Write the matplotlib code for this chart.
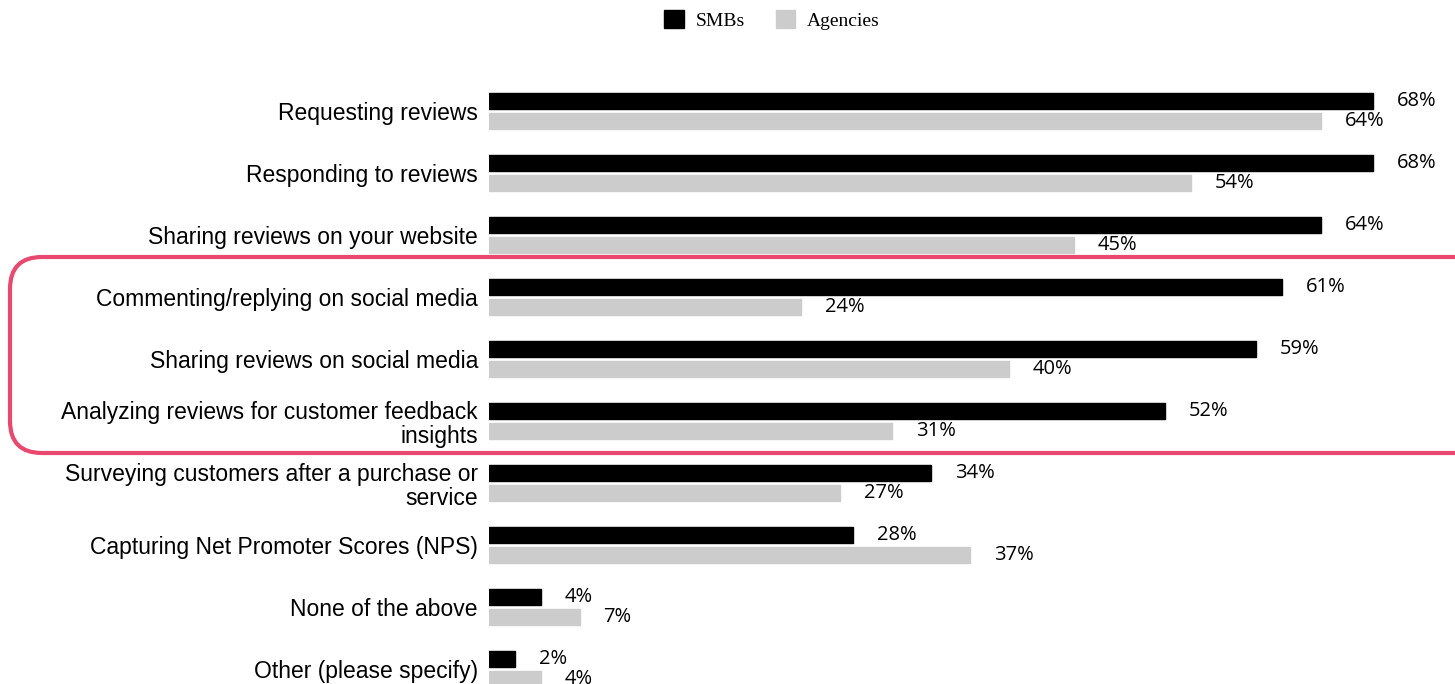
import matplotlib.pyplot as plt
from matplotlib.patches import FancyBboxPatch, Patch
import numpy as np

categories = [
    "Requesting reviews",
    "Responding to reviews",
    "Sharing reviews on your website",
    "Commenting/replying on social media",
    "Sharing reviews on social media",
    "Analyzing reviews for customer feedback\ninsights",
    "Surveying customers after a purchase or\nservice",
    "Capturing Net Promoter Scores (NPS)",
    "None of the above",
    "Other (please specify)",
]
smbs = [68, 68, 64, 61, 59, 52, 34, 28, 4, 2]
agencies = [64, 54, 45, 24, 40, 31, 27, 37, 7, 4]

black = "#000000"
gray = "#cccccc"
pink = "#e9496e"

W, H = 1455, 684
fig = plt.figure(figsize=(W / 100, H / 100), dpi=100)

# axes fills the full height; rows sit at y = 111 + 62*i px
left_px = 489
scale = 13.0  # px per percent
xmax = 74
ax = fig.add_axes([left_px / W, 0, xmax * scale / W, 1])
ax.set_xlim(0, xmax)
ax.set_ylim((H - 111) / 62, -111 / 62)

y = np.arange(len(categories))
h = 0.258
off = 0.161
ax.barh(y - off, smbs, height=h, color=black, edgecolor=black,
        linewidth=1, joinstyle="round")
ax.barh(y + off, agencies, height=h, color=gray, edgecolor=gray,
        linewidth=1, joinstyle="round")

for yy, v in zip(y, smbs):
    ax.annotate(f"{v}%", (v, yy - off), xytext=(17, 0), textcoords="offset points",
                va="center", ha="left", fontsize=14.5, family="Open Sans")
for yy, v in zip(y, agencies):
    ax.annotate(f"{v}%", (v, yy + off), xytext=(17, 0), textcoords="offset points",
                va="center", ha="left", fontsize=14.5, family="Open Sans")

ax.set_yticks(y)
ax.set_yticklabels(categories, fontsize=16.5, family="Liberation Sans", linespacing=1.1)
ax.tick_params(axis="y", length=0, pad=8)
ax.set_xticks([])
for s in ax.spines.values():
    s.set_visible(False)

# highlight box around the social media rows
box = FancyBboxPatch((0.10, (H - 453) / 100), 15.5, (453 - 257) / 100,
                     boxstyle="round,pad=0,rounding_size=0.32",
                     transform=fig.dpi_scale_trans, fill=False,
                     edgecolor=pink, linewidth=3, clip_on=False)
fig.patches.append(box)

handles = [Patch(facecolor=black, edgecolor=black), Patch(facecolor=gray, edgecolor=gray)]
fig.legend(handles, ["SMBs", "Agencies"], loc="center", bbox_to_anchor=(772 / W, 1 - 20 / H),
           ncol=2, frameon=False, prop={"family": "Liberation Serif", "size": 14},
           handlelength=1.0, handleheight=1.0, handletextpad=0.6, columnspacing=1.6)

fig.savefig("out.png", dpi=100)
